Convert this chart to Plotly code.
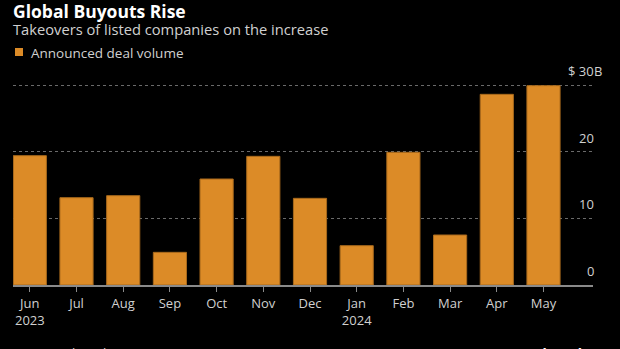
import plotly.graph_objects as go

# Monthly announced deal volume for takeovers of listed companies ($B)
months = ["Jun<br>2023", "Jul", "Aug", "Sep", "Oct", "Nov", "Dec",
          "Jan<br>2024", "Feb", "Mar", "Apr", "May"]
deal_volume = [19.4, 13.1, 13.4, 4.9, 15.9, 19.3, 13.0, 5.9, 19.9, 7.5, 28.6, 29.9]

y_ticks = [0, 10, 20, 30]
y_tick_labels = ["0", "10", "20", "$ 30"]

title = "Global Buyouts Rise"
subtitle = "Takeovers of listed companies on the increase"
series_name = "Announced deal volume"
source = "Source: Bloomberg"
brand = "Bloomberg"

BAR = "#dc8b27"
FONT = "Open Sans"
TEXT = "#d0d0d0"

W, H = 620, 349
L, R, T, B = 13, 27, 83, 64
Y_MAX = 30.3
plot_w, plot_h = W - L - R, H - T - B


def px_x(px):
    return (px - L) / plot_w


def px_y(py):
    return (H - B - py) / plot_h


fig = go.Figure(
    go.Bar(
        x=list(range(len(months))),
        y=deal_volume,
        name=series_name,
        marker=dict(color=BAR, line=dict(color="#a8691c", width=1)),
        showlegend=False,
    )
)

annotations = [
    dict(text=f"<b>{title}</b>", x=0, y=px_y(11.5), xref="paper", yref="paper",
         xanchor="left", yanchor="middle", showarrow=False, xshift=-1, borderpad=0,
         font=dict(family=FONT, size=17.5, color="#ffffff")),
    dict(text=subtitle, x=0, y=px_y(29), xref="paper", yref="paper",
         xanchor="left", yanchor="middle", showarrow=False, xshift=-1, borderpad=0,
         font=dict(family=FONT, size=14.7, color=TEXT)),
    dict(text=series_name, x=px_x(29), y=px_y(52.5), xref="paper", yref="paper",
         xanchor="left", yanchor="middle", showarrow=False,
         font=dict(family=FONT, size=13.5, color=TEXT)),
    dict(text=source, x=0, y=px_y(342), xref="paper", yref="paper",
         xanchor="left", yanchor="top", showarrow=False,
         font=dict(family=FONT, size=13, color=TEXT)),
    dict(text=f"<b>{brand}</b>", x=px_x(531), y=px_y(342), xref="paper", yref="paper",
         xanchor="left", yanchor="top", showarrow=False,
         font=dict(family=FONT, size=14, color="#ffffff")),
]

# value labels sit just above their gridlines at the right edge
for v, lab in zip(y_ticks, y_tick_labels):
    annotations.append(dict(text=lab, x=1, y=v, xref="paper", yref="y",
                            xanchor="right", yanchor="bottom", yshift=3, xshift=3,
                            showarrow=False,
                            font=dict(family=FONT, size=13, color=TEXT)))
annotations.append(dict(text="B", x=1, y=y_ticks[-1], xref="paper", yref="y",
                        xanchor="left", yanchor="bottom", yshift=3, xshift=-1,
                        showarrow=False,
                        font=dict(family=FONT, size=13, color=TEXT)))

fig.update_layout(
    width=W, height=H,
    margin=dict(l=L, r=R, t=T, b=B),
    paper_bgcolor="#000000",
    plot_bgcolor="#000000",
    bargap=0.29,
    annotations=annotations,
    shapes=[dict(type="rect", xref="paper", yref="paper",
                 x0=px_x(15), x1=px_x(23), y0=px_y(56), y1=px_y(48),
                 fillcolor=BAR, line=dict(width=0))],
    xaxis=dict(
        tickmode="array", tickvals=list(range(len(months))), ticktext=months,
        range=[-0.36, len(months) + 0.06],
        showgrid=False, zeroline=False,
        showline=True, linecolor="#8a8a8a", linewidth=2,
        ticks="outside", ticklen=5, tickwidth=1, tickcolor="#8a8a8a",
        tickfont=dict(family=FONT, size=13, color=TEXT),
        fixedrange=True,
    ),
    yaxis=dict(
        range=[0, Y_MAX], tickvals=y_ticks, showticklabels=False,
        showgrid=True, gridcolor="#6a6a6a", gridwidth=1, griddash="dot",
        zeroline=False, fixedrange=True,
    ),
)

fig.write_html("out.html")
